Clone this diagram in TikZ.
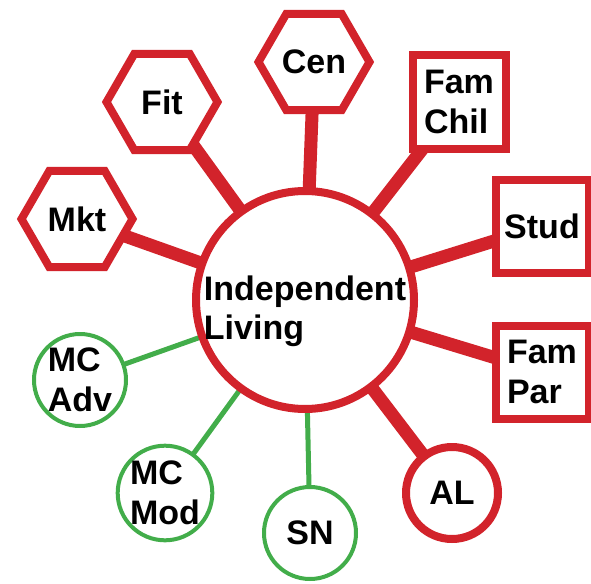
\documentclass[tikz,border=0pt]{standalone}
\usepackage{fontspec}
\setmainfont{Liberation Sans}
\usetikzlibrary{shapes.geometric, positioning, backgrounds}
\definecolor{ilred}{RGB}{210, 35, 43}
\definecolor{ilgreen}{RGB}{66, 173, 74}
\tikzset{
  labelfont/.style  = {font=\fontsize{34}{40}\selectfont\bfseries},
  hubnode/.style    = {circle, draw=ilred, line width=8pt, fill=white, minimum size=218pt, inner sep=0pt},
  hubtext/.style    = {labelfont, align=left, inner sep=0pt, font=\fontsize{34}{39}\selectfont\bfseries},
  hexbox/.style     = {regular polygon, regular polygon sides=6, draw=ilred, line width=8pt, fill=white, minimum size=111pt, inner sep=0pt, labelfont},
  sqbox/.style      = {rectangle, draw=ilred, line width=8pt, fill=white, minimum size=93pt, inner sep=0pt, align=left, labelfont},
  redcirc/.style    = {circle, draw=ilred, line width=8pt, fill=white, minimum size=92pt, inner sep=0pt, labelfont},
  greencirc/.style  = {circle, draw=ilgreen, line width=4pt, fill=white, minimum size=92pt, inner sep=0pt, align=left, labelfont},
  linkred/.style    = {ilred, line width=13pt},
  linkgreen/.style  = {ilgreen, line width=5pt},
}

\begin{document}
\begin{tikzpicture}[x=1pt, y=-1pt]
\useasboundingbox (0,0) rectangle (591,583);

% 中心节点
\node[hubnode] (hub) at (305,300) {};
\node[hubtext] (hubtxt) at ([yshift=-11pt]hub.center) {Independent\\Living};

% 红色六边形
\node[hexbox] (mkt) at (77,219) {Mkt};
\node[hexbox] (fit) at (162,102) {Fit};
\node[hexbox] (cen) at (314,62) {Cen};

% 红色方框
\node[sqbox] (famchil) at (459,102) {Fam\\Chil};
\node[sqbox] (stud) at (542,226) {Stud};
\node[sqbox] (fampar) at (542,372) {Fam\\Par};

% 红色圆
\node[redcirc] (al) at (452,493) {AL};

% 绿色圆
\node[greencirc] (sn) at (310,533) {SN};
\node[greencirc] (mcmod) at (165,493) {MC\\Mod};
\node[greencirc] (mcadv) at (80,380) {MC\\Adv};

% 连线（放在背景层，被节点遮住）
\begin{scope}[on background layer]
  \foreach \n in {mkt, fit, cen, famchil, stud, fampar, al}
    \draw[linkred] (hub.center) -- (\n.center);
  \foreach \n in {sn, mcmod, mcadv}
    \draw[linkgreen] (hub.center) -- (\n.center);
\end{scope}

\end{tikzpicture}
\end{document}
